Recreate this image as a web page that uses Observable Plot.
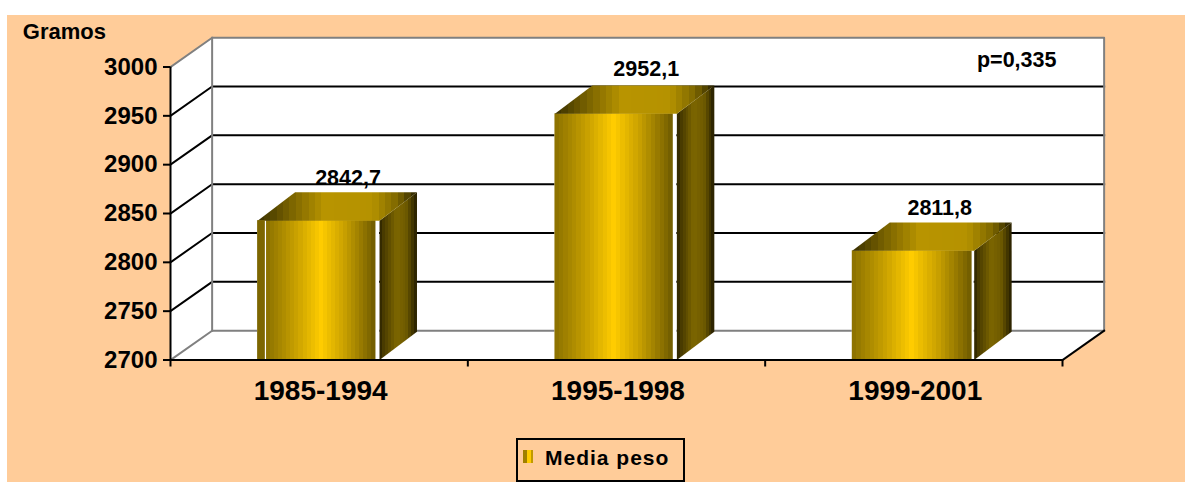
<!DOCTYPE html>
<html><head><meta charset="utf-8">
<script src="https://cdn.jsdelivr.net/npm/d3@7"></script>
<script src="https://cdn.jsdelivr.net/npm/@observablehq/plot@0.6"></script>
<style>
html,body{margin:0;padding:0;background:#fff;width:1185px;height:482px;overflow:hidden;font-family:"Liberation Sans",Arial,sans-serif}
#bg{position:absolute;left:7px;top:15px;width:1178px;height:467px;background:#ffcc99}
#chart{position:absolute;left:0;top:0}
#legend{position:absolute;left:516px;top:438px;width:165px;height:40px;border:2px solid #000;background:#ffcc99;box-sizing:content-box}
#legend i{position:absolute;left:5px;top:10px;width:10px;height:13px;background:linear-gradient(90deg,#a08000 0 40%,#ffcc00 40% 80%,#c09a00 80%)}
#legend span{position:absolute;left:27px;top:6px;font-weight:bold;font-size:21px;letter-spacing:1px;white-space:nowrap}
</style></head><body>
<div id="bg"></div>
<div id="chart"></div>
<div id="legend"><i></i><span>Media peso</span></div>
<script>
const categories = ["1985-1994", "1995-1998", "1999-2001"];
const mediaPeso = [2842.7, 2952.1, 2811.8];
const valueLabels = ["2842,7", "2952,1", "2811,8"];
const yTicks = [2700, 2750, 2800, 2850, 2900, 2950, 3000];

const yBase = 2700, yTop = 3000;
const n = categories.length;
// pseudo-3D depth, expressed in data units
const wallDx = 0.14, wallDy = 30;
const barDx = 0.126, barDy = 29;
const barX0 = 0.293, barX1 = 0.691, sideX0 = 0.703;

const wall = (pts, fill) => Plot.line(pts, {x: "0", y: "1", fill, stroke: "none"});
const edge = (pts, stroke, w) => Plot.line(pts, {x: "0", y: "1", stroke, strokeWidth: w, strokeLinecap: "square"});

function bands(id, stops, count) {
  const c = d3.scaleLinear().domain(stops.map(s => s[0])).range(stops.map(s => s[1])).interpolate(d3.interpolateRgb);
  let s = `<linearGradient id="${id}" x1="0" x2="1" y1="0" y2="0">`;
  for (let i = 0; i < count; i++) {
    const col = c((i + 0.5) / count);
    s += `<stop offset="${i / count}" stop-color="${col}"/><stop offset="${(i + 1) / count}" stop-color="${col}"/>`;
  }
  return s + "</linearGradient>";
}
const defsMark = () => {
  const g = document.createElementNS("http://www.w3.org/2000/svg", "defs");
  g.innerHTML =
    bands("gFront", [[0, "#8a7000"], [0.25, "#c29c00"], [0.5, "#ffcc00"], [0.72, "#c8a000"], [1, "#6e5a00"]], 27) +
    bands("gSide", [[0, "#2a2200"], [0.12, "#4a3c00"], [0.45, "#7d6600"], [0.72, "#6e5a00"], [1, "#241d00"]], 13) +
    bands("gTop", [[0, "#3a3000"], [0.22, "#7d6600"], [0.42, "#b89400"], [0.72, "#b59200"], [0.88, "#7d6600"], [1, "#2a2300"]], 25);
  return g;
};

const barMarks = categories.flatMap((c, i) => {
  const v = mediaPeso[i];
  const x0 = i + barX0, x1 = i + barX1, xs = i + sideX0;
  const marks = [
    // opaque backing (the white slits between faces)
    Plot.rect([0], {x1: () => x0, x2: () => xs, y1: yBase, y2: () => v, fill: "white"}),
    Plot.rect([0], {x1: () => i === 0 ? x0 + 0.03 : x0, x2: () => x1 + (i === 2 ? 0.005 : 0), y1: yBase, y2: () => v, fill: "url(#gFront)"}),
    wall([[xs, yBase], [xs + barDx, yBase + barDy], [xs + barDx, v + barDy], [xs, v]], "url(#gSide)"),
    wall([[x0, v], [x0 + barDx, v + barDy], [xs + barDx, v + barDy], [xs, v]], "url(#gTop)")
  ];
  if (i === 0) marks.push(Plot.rect([0], {x1: () => x0, x2: () => x0 + 0.026, y1: yBase, y2: () => v, fill: "#7d6600"}));
  return marks;
});

const labelOffset = [0.597, 0.6, 0.587];
const labelLift = [0, 2, 0];

const plot = Plot.plot({
  width: 1185, height: 482,
  marginLeft: 170, marginRight: 123, marginTop: 66.5, marginBottom: 122.5,
  style: {background: "transparent", fontFamily: "'Liberation Sans',Arial,sans-serif", overflow: "visible"},
  x: {domain: [0, n], axis: null},
  y: {domain: [yBase, yTop], axis: null},
  marks: [
    defsMark,
    // floor, left wall, back wall
    wall([[0, yBase], [wallDx, yBase + wallDy], [wallDx, yTop + wallDy], [0, yTop]], "white"),
    wall([[wallDx, yBase + wallDy], [n + wallDx, yBase + wallDy], [n + wallDx, yTop + wallDy], [wallDx, yTop + wallDy]], "white"),
    wall([[0, yBase], [wallDx, yBase + wallDy], [n + wallDx, yBase + wallDy], [n, yBase]], "white"),
    // gridlines on back wall + left wall
    ...yTicks.slice(1, -1).map(t => edge([[0, t], [wallDx, t + wallDy], [n + wallDx, t + wallDy]], "black", 2)),
    // wall edges
    edge([[wallDx, yBase + wallDy], [wallDx, yTop + wallDy]], "#808080", 2),
    edge([[0, yTop], [wallDx, yTop + wallDy], [n + wallDx, yTop + wallDy], [n + wallDx, yBase + wallDy], [wallDx, yBase + wallDy], [0, yBase]], "#808080", 2),
    edge([[n, yBase], [n + wallDx, yBase + wallDy]], "black", 2),
    ...barMarks,
    // axes
    Plot.ruleX([0], {y1: yBase, y2: yTop, stroke: "black", strokeWidth: 2}),
    Plot.ruleY([yBase], {x1: 0, x2: n, stroke: "black", strokeWidth: 2}),
    Plot.axisY({ticks: yTicks, tickFormat: d => String(d), tickSize: 7, tickPadding: 6, fontSize: 24, fontWeight: "bold", stroke: "black", strokeWidth: 2, fill: "black", label: null}),
    Plot.axisX({ticks: d3.range(n + 1), tickFormat: () => "", tickSize: 7, stroke: "black", strokeWidth: 2, label: null}),
    Plot.text(categories, {x: (d, i) => i + 0.505, y: yBase, text: d => d, dy: 31, fontSize: 28, fontWeight: "bold", fill: "black"}),
    Plot.text(valueLabels, {x: (d, i) => i + labelOffset[i], y: (d, i) => mediaPeso[i] + barDy + labelLift[i], text: d => d, dy: -14, fontSize: 21.5, fontWeight: "bold", fill: "black"}),
    Plot.text(["p=0,335"], {x: 2.846, y: yTop + 7.5, text: d => d, fontSize: 21.5, fontWeight: "bold", fill: "black"}),
    Plot.text(["Gramos"], {x: -0.357, y: yTop + 36, text: d => d, fontSize: 22, fontWeight: "bold", fill: "black"})
  ]
});
document.getElementById("chart").append(plot);
</script>
</body></html>
